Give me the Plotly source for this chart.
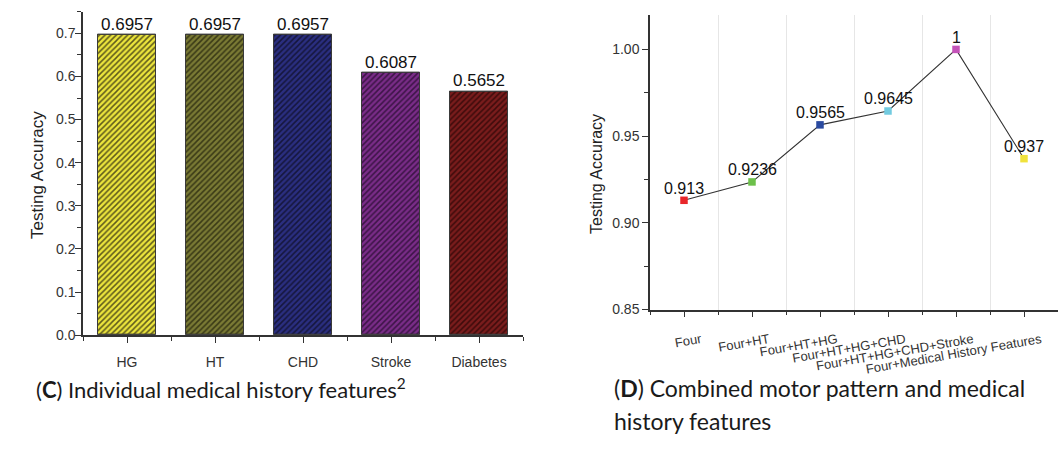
import plotly.graph_objects as go

# Panel C: individual medical history features
hist_features = ["HG", "HT", "CHD", "Stroke", "Diabetes"]
hist_accuracy = [0.6957, 0.6957, 0.6957, 0.6087, 0.5652]
bar_colors = ["#ece53c", "#7a7a34", "#2a2e80", "#7a2c88", "#7a1c1c"]
hatch_colors = ["#5e5a1c", "#393916", "#15163c", "#3c1446", "#3e0b0b"]

# Panel D: combined motor pattern and medical history features
combo_features = ["Four", "Four+HT", "Four+HT+HG", "Four+HT+HG+CHD",
                  "Four+HT+HG+CHD+Stroke", "Four+Medical History Features"]
combo_accuracy = [0.913, 0.9236, 0.9565, 0.9645, 1, 0.937]
marker_colors = ["#e8262a", "#6cc04a", "#2a4aa0", "#72cbe0", "#c452b8", "#f0e23c"]

W, H = 1058, 463
px = lambda x: x / W
py = lambda y: (H - y) / H

AX = "#333333"
FONT = "Liberation Sans, Arial, sans-serif"

fig = go.Figure()

idx_c = list(range(len(hist_features)))
# solid fill underneath, diagonal hatching layered on top
fig.add_trace(go.Bar(
    x=idx_c, y=hist_accuracy, xaxis="x", yaxis="y", width=0.655,
    marker=dict(color=bar_colors, line=dict(color="#3a3a3a", width=1)),
    showlegend=False, hoverinfo="skip",
))
fig.add_trace(go.Bar(
    x=idx_c, y=hist_accuracy, xaxis="x", yaxis="y", width=0.655,
    marker=dict(color="rgba(0,0,0,0)", line=dict(color="#3a3a3a", width=1),
                pattern=dict(shape="/", size=4, solidity=0.38,
                             fgcolor=hatch_colors, fgopacity=1,
                             bgcolor="rgba(0,0,0,0)", fillmode="replace")),
    showlegend=False,
))

idx_d = list(range(len(combo_features)))
fig.add_trace(go.Scatter(
    x=idx_d, y=combo_accuracy, xaxis="x2", yaxis="y2",
    mode="lines+markers",
    line=dict(color="#333333", width=1.1),
    marker=dict(symbol="square", size=7.5, color=marker_colors),
    cliponaxis=False, showlegend=False,
))

# Value labels above each bar and each point
for i, v in zip(idx_c, hist_accuracy):
    fig.add_annotation(x=i, y=v, xref="x", yref="y", text=str(v), showarrow=False,
                       xanchor="center", yanchor="bottom", yshift=-1,
                       font=dict(family=FONT, size=17, color="#111111"))
for i, v in zip(idx_d, combo_accuracy):
    fig.add_annotation(x=i, y=v, xref="x2", yref="y2", text=str(v), showarrow=False,
                       xanchor="center", yanchor="middle", yshift=12,
                       font=dict(family=FONT, size=16, color="#111111"))

axis_common = dict(showline=True, linecolor=AX, linewidth=1.5,
                   ticks="outside", tickcolor=AX, tickwidth=1.3,
                   tickfont=dict(family=FONT, color="#333333"),
                   zeroline=False, showgrid=False, mirror=False)

fig.update_layout(
    width=W, height=H,
    margin=dict(l=0, r=0, t=0, b=0),
    paper_bgcolor="white", plot_bgcolor="white",
    barmode="overlay", bargap=0,
    xaxis=dict(axis_common, domain=[px(83), px(523)], range=[-0.5, 4.5],
               anchor="y", tickvals=idx_c, ticktext=hist_features, ticklen=6,
               ticklabelstandoff=7,
               tickfont=dict(family=FONT, size=14, color="#333333"),
               minor=dict(tickvals=[i - 0.5 for i in range(len(hist_features) + 1)],
                          ticklen=4, ticks="outside", tickcolor=AX)),
    yaxis=dict(axis_common, domain=[py(341), py(12)], range=[0, 0.75],
               anchor="x", dtick=0.1, tickformat=".1f", ticklen=6,
               ticklabelstandoff=-3,
               tickfont=dict(family=FONT, size=14, color="#333333"),
               minor=dict(dtick=0.05, ticklen=4, ticks="outside", tickcolor=AX)),
    xaxis2=dict(axis_common, domain=[px(650), 1.0], range=[-0.5, 5.5],
                anchor="y2", tickvals=idx_d, ticktext=combo_features, ticklen=6,
                tickangle=-10, ticklabelshift=17, ticklabelstandoff=10,
                tickfont=dict(family=FONT, size=13, color="#333333"),
                minor=dict(tickvals=[i - 0.5 for i in range(len(combo_features) + 1)],
                           ticklen=4, ticks="outside", tickcolor=AX,
                           showgrid=True, gridcolor="#e6e6e6", gridwidth=1)),
    yaxis2=dict(axis_common, domain=[py(315), py(15)], range=[0.85, 1.02],
                anchor="x2", dtick=0.05, tick0=0.85, tickformat=".2f", ticklen=6,
                tickfont=dict(family=FONT, size=14, color="#333333"),
                minor=dict(dtick=0.025, tick0=0.85, ticklen=4, ticks="outside",
                           tickcolor=AX)),
)

# Axis titles
for xc, yc, size in [(38, 178, 17), (597, 177, 16)]:
    fig.add_annotation(text="Testing Accuracy", xref="paper", yref="paper",
                       x=px(xc), y=py(yc), textangle=-90, showarrow=False,
                       xanchor="center", yanchor="middle",
                       font=dict(family=FONT, size=size, color="#222222"))

# Panel captions
captions = [
    ("(<b>C</b>) Individual medical history features<sup>2</sup>", 34, 395, 22),
    ("(<b>D</b>) Combined motor pattern and medical", 612, 395, 23),
    ("history features", 612, 428, 23),
]
for txt, xl, yc, fs in captions:
    fig.add_annotation(text=txt, xref="paper", yref="paper", x=px(xl), y=py(yc),
                       xanchor="left", yanchor="middle", showarrow=False,
                       font=dict(family="Lato, Open Sans, sans-serif", size=fs,
                                 color="#1a1a1a"))

fig.write_html("out.html")
